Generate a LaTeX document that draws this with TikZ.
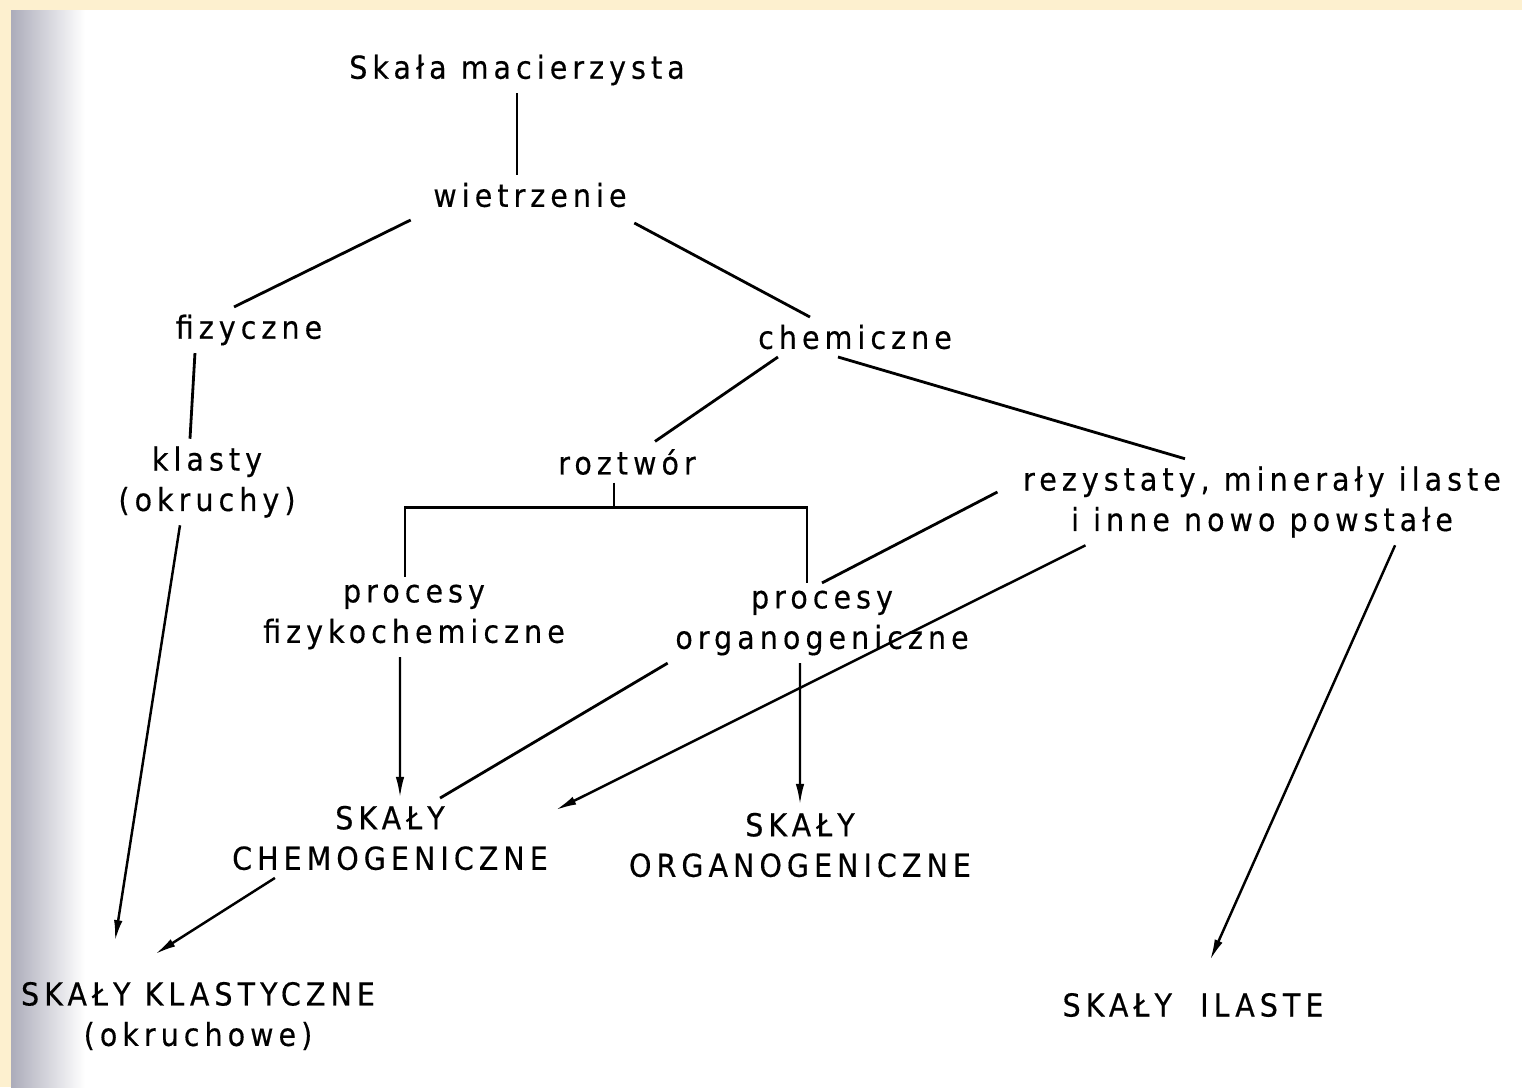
\documentclass[tikz,border=0pt]{standalone}
\usepackage{fontspec}
\newfontfamily\scanfont{DejaVu Sans}[FakeStretch=0.9,LetterSpace=16,FakeBold=0.4]
\usetikzlibrary{arrows.meta}
\definecolor{cream}{RGB}{253,240,207}
\definecolor{scangray}{RGB}{172,172,186}
\tikzset{
  lbl/.style={inner sep=2pt,align=center,font=\scanfont\fontsize{9}{11.5}\selectfont},
  lnk/.style={line width=0.8pt},
  arr/.style={line width=0.7pt,-{Latex[length=6pt,width=2.4pt]}}
}
\begin{document}
\begin{tikzpicture}[x=0.01cm,y=-0.01cm]
\fill[cream] (0,0) rectangle (1522,1087);
\fill[white] (11,10) rectangle (1522,1087);
\shade[left color=scangray,right color=white] (11,10) rectangle (85,1087);
\useasboundingbox (0,0) rectangle (1522,1087);

\node[lbl] (skala) at (517,70) {Skała macierzysta};
\node[lbl] (wiet) at (530,195) {wietrzenie};
\node[lbl] (fiz) at (249,330) {fizyczne};
\node[lbl] (chem) at (855,337) {chemiczne};
\node[lbl] (klasty) at (207,482) {klasty\\(okruchy)};
\node[lbl] (roztwor) at (627,462) {roztwór};
\node[lbl] (rezyst) at (1262,502) {rezystaty, minerały ilaste\\i inne nowo powstałe};
\node[lbl] (procfiz) at (414,617) {procesy\\fizykochemiczne};
\node[lbl] (procorg) at (822,623) {procesy\\organogeniczne};
\node[lbl] (skchem) at (390,838) {SKAŁY\\CHEMOGENICZNE};
\node[lbl] (skorg) at (800,845) {SKAŁY\\ORGANOGENICZNE};
\node[lbl] (skklast) at (198,1016) {SKAŁY KLASTYCZNE\\(okruchowe)};
\node[lbl] (skil) at (1193,1005) {SKAŁY\ \ ILASTE};

% wietrzenie
\draw[lnk] (skala.south) -- (skala.south |- wiet.north);
\draw[lnk] ([xshift=-0.15cm,yshift=-0.05cm]wiet.south west) -- ([xshift=-0.15cm]fiz.north);
\draw[lnk] ([yshift=-0.08cm]wiet.south east) -- ([xshift=-0.45cm]chem.north);
% fizyczne
\draw[lnk] ([xshift=-0.54cm]fiz.south) -- ([xshift=-0.17cm]klasty.north);
\draw[arr] ([xshift=-0.27cm]klasty.south) -- ([xshift=-0.83cm,yshift=0.33cm]skklast.north);
% chemiczne
\draw[lnk] ([xshift=-0.77cm]chem.south) -- ([xshift=0.28cm]roztwor.north);
\draw[lnk] ([xshift=-0.17cm]chem.south) -- ([xshift=-0.77cm]rezyst.north);
\draw[lnk] ([xshift=-0.13cm]roztwor.south) -- ++(0,25) coordinate (fork);
\draw[lnk] ([xshift=-0.09cm]procfiz.north) |- (fork) -| ([xshift=-0.15cm]procorg.north);
\draw[lnk] ([xshift=-0.18cm,yshift=0.1cm]rezyst.west) -- (procorg.north);
% skaly
\draw[arr] ([xshift=-0.14cm]procfiz.south) -- ([xshift=0.1cm]skchem.north);
\draw[lnk] (procorg.south west) -- ([xshift=0.5cm]skchem.north);
\draw[arr] ([xshift=0.7cm]rezyst.south west) -- ([yshift=-0.12cm]skchem.north east);
\draw[arr] ([xshift=-0.22cm]procorg.south) -- (skorg.north);
\draw[arr] ([xshift=-1.15cm]skchem.south) -- ([xshift=-0.43cm,yshift=0.2cm]skklast.north);
\draw[arr] ([xshift=1.33cm]rezyst.south) -- ([xshift=0.17cm,yshift=0.25cm]skil.north);
\end{tikzpicture}
\end{document}
